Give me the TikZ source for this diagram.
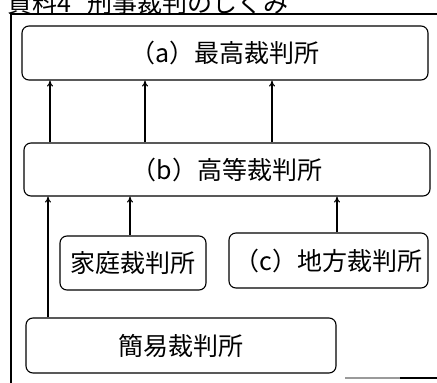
\documentclass[tikz,border=0pt]{standalone}
\usepackage{fontspec}
\usepackage{tikz}
\usetikzlibrary{arrows.meta}
\newfontfamily\jp{Noto Sans CJK JP}
\definecolor{scangray}{HTML}{9a9a9a}

\begin{document}
\begin{tikzpicture}[x=1pt,y=-1pt,>={To[length=6pt,width=6pt]},
  court/.style={draw,line width=1.1pt,rounded corners=7pt,font=\jp\fontsize{25}{25}\selectfont,inner sep=0pt}]
  \useasboundingbox (0,0) rectangle (437,383);
  \clip (0,0) rectangle (437,383);
  % title, cut off at the top edge
  \node[anchor=base west,font=\jp\fontsize{25}{25}\selectfont,inner sep=0pt] (title) at (7,12) {資料4\hspace{16pt}刑事裁判のしくみ};
  \draw[line width=1.6pt] (11,383) -- (11,14) -- (437,14);
  \draw[line width=1.2pt,scangray] (345,378) -- (400,378);
  \draw[line width=1.6pt] (400,378) -- (437,378);
  % courts
  \node[court,minimum width=406pt,minimum height=54pt] (a) at (225,53) {（a）最高裁判所};
  \node[court,minimum width=406pt,minimum height=53pt] (b) at (227,169.5) {（b）高等裁判所};
  \node[court,minimum width=146pt,minimum height=54pt] (family) at (133,263) {家庭裁判所};
  \node[court,minimum width=199pt,minimum height=55pt] (c) at (328.5,260.5) {（c）地方裁判所};
  \node[court,minimum width=310pt,minimum height=55pt] (summary) at (181,345.5) {簡易裁判所};
  % appeals
  \foreach \x in {50,145,272}
    \draw[->,line width=1.1pt] (b.north -| \x,0) -- (a.south -| \x,0);
  \draw[->,line width=1.1pt] (summary.north -| 48,0) -- (b.south -| 48,0);
  \draw[->,line width=1.1pt] (family.north -| 130,0) -- (b.south -| 130,0);
  \draw[->,line width=1.1pt] (c.north -| 337,0) -- (b.south -| 337,0);
\end{tikzpicture}
\end{document}
